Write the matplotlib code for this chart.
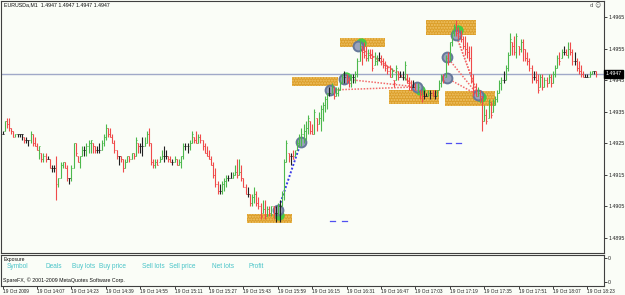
import numpy as np
import matplotlib
matplotlib.use('Agg')
import matplotlib.pyplot as plt
from matplotlib.patches import Rectangle
import matplotlib.transforms as mtransforms

plt.rcParams['font.family'] = ['Liberation Sans', 'DejaVu Sans']

# EURUSD M1 bars, 19 Oct 2009 from 13:51, prices in pips above 1.4900
highs = [29, 32, 33, 33, 30, 29, 28, 28, 28, 28,
         27, 27, 26, 29, 28, 27, 25, 24, 22, 22,
         22, 21, 20, 18, 18, 21, 14, 19, 19, 19,
         18, 14, 18, 25, 25, 21, 21, 24, 24, 25,
         26, 26, 25, 24, 24, 25, 26, 28, 31, 30,
         30, 28, 26, 23, 21, 21, 20, 20, 21, 21,
         22, 22, 27, 25, 25, 27, 27, 29, 30, 25,
         20, 20, 20, 21, 23, 24, 23, 21, 21, 20,
         21, 20, 20, 21, 25, 25, 25, 26, 29, 27,
         29, 28, 28, 26, 25, 24, 23, 21, 19, 17,
         13, 12, 13, 14, 15, 15, 16, 16, 18, 20,
         20, 18, 14, 12, 11, 9, 9, 11, 10, 8,
         6, 7, 7, 5, 5, 5, 5, 5, 6, 7,
         10, 20, 26, 22, 22, 23, 23, 26, 28, 30,
         31, 32, 34, 32, 31, 36, 33, 35, 37, 38,
         40, 41, 43, 44, 43, 43, 43, 45, 47, 48,
         47, 46, 47, 47, 48, 52, 58, 56, 57, 56,
         55, 55, 55, 54, 53, 54, 53, 52, 51, 50,
         50, 49, 45, 50, 48, 48, 48, 51, 47, 46,
         45, 45, 44, 44, 42, 42, 42, 41, 42, 42,
         42, 42, 42, 45, 47, 47, 53, 54, 57, 61,
         63, 64, 62, 61, 59, 59, 57, 56, 56, 47,
         44, 43, 42, 40, 37, 36, 39, 38, 39, 40,
         42, 45, 46, 48, 50, 54, 60, 57, 59, 60,
         56, 58, 58, 55, 54, 52, 50, 48, 48, 47,
         47, 47, 46, 46, 47, 47, 48, 50, 53, 54,
         55, 56, 55, 57, 57, 55, 54, 52, 51, 50,
         48, 47, 47, 48, 48, 48, 48]
lows = [28, 29, 30, 29, 28, 27, 27, 27, 27, 26,
        25, 25, 24, 25, 24, 24, 23, 20, 19, 19,
        19, 20, 17, 16, 16, 7, 11, 14, 17, 17,
        13, 12, 13, 17, 21, 19, 17, 21, 21, 21,
        22, 22, 22, 22, 22, 22, 23, 24, 26, 27,
        27, 25, 22, 20, 18, 19, 16, 17, 19, 19,
        20, 20, 21, 22, 22, 21, 24, 25, 24, 18,
        17, 17, 18, 19, 20, 19, 20, 19, 19, 18,
        19, 18, 18, 17, 20, 23, 22, 23, 25, 25,
        25, 25, 25, 23, 22, 21, 20, 18, 14, 11,
        9, 9, 9, 10, 11, 13, 14, 14, 15, 14,
        15, 13, 11, 9, 8, 5, 5, 6, 5, 4,
        1, 3, 1, 2, 2, 2, 1, 0, 1, 0,
        5, 7, 19, 19, 18, 20, 21, 23, 24, 24,
        25, 26, 28, 28, 28, 28, 29, 31, 29, 32,
        35, 36, 40, 41, 39, 40, 40, 42, 44, 44,
        44, 43, 43, 44, 44, 46, 51, 50, 52, 51,
        51, 52, 48, 50, 50, 51, 50, 49, 48, 47,
        46, 46, 43, 45, 45, 46, 45, 45, 44, 42,
        42, 43, 42, 41, 39, 38, 39, 40, 40, 39,
        40, 39, 40, 42, 43, 44, 46, 50, 51, 56,
        59, 59, 58, 57, 55, 53, 52, 51, 44, 40,
        40, 40, 38, 29, 32, 31, 33, 33, 35, 37,
        38, 41, 42, 44, 45, 48, 53, 53, 53, 52,
        53, 54, 51, 51, 50, 48, 44, 45, 44, 41,
        43, 42, 43, 43, 44, 43, 44, 46, 49, 50,
        52, 53, 53, 52, 53, 50, 50, 48, 47, 46,
        46, 46, 46, 46, 47, 47, 46]
closes = [28, 32, 31, 30, 29, 27, 28, 28, 28, 28,
          26, 26, 26, 28, 25, 24, 23, 24, 20, 21,
          20, 20, 17, 17, 17, 12, 14, 18, 19, 17,
          14, 14, 17, 25, 22, 19, 21, 23, 23, 24,
          25, 26, 24, 23, 23, 23, 25, 27, 30, 28,
          27, 25, 23, 21, 21, 20, 17, 19, 21, 20,
          22, 21, 26, 24, 24, 24, 25, 28, 25, 19,
          18, 19, 18, 20, 21, 21, 21, 20, 19, 19,
          20, 18, 19, 21, 24, 24, 24, 25, 28, 26,
          25, 27, 26, 24, 22, 21, 20, 18, 15, 12,
          10, 10, 12, 13, 14, 14, 14, 15, 16, 15,
          16, 14, 11, 9, 9, 6, 8, 9, 6, 5,
          2, 4, 2, 4, 3, 5, 3, 3, 5, 5,
          9, 19, 25, 21, 21, 20, 22, 25, 27, 28,
          29, 30, 33, 29, 28, 35, 31, 33, 36, 37,
          39, 41, 41, 43, 40, 41, 42, 44, 46, 46,
          45, 44, 46, 46, 47, 51, 56, 54, 53, 52,
          53, 52, 49, 51, 52, 52, 51, 50, 49, 48,
          46, 48, 44, 49, 46, 46, 46, 50, 44, 43,
          42, 43, 42, 43, 41, 40, 40, 40, 41, 41,
          40, 40, 42, 44, 46, 45, 52, 51, 57, 60,
          62, 60, 59, 58, 56, 55, 54, 52, 45, 41,
          40, 41, 40, 32, 34, 32, 38, 34, 37, 39,
          41, 44, 45, 45, 49, 53, 58, 56, 54, 59,
          55, 57, 55, 52, 51, 49, 46, 46, 45, 42,
          46, 43, 45, 44, 46, 44, 47, 49, 52, 51,
          54, 54, 53, 55, 54, 51, 51, 49, 48, 47,
          46, 46, 46, 47, 48, 48, 47]
first_open = 28
current_price = 1.4947
symbol_title = 'EURUSDa,M1  1.4947 1.4947 1.4947 1.4947'

# time axis labels every 16 minutes
tick_minutes = list(range(0, 273, 16))
tick_labels = ['19 Oct 2009', '19 Oct 14:07', '19 Oct 14:23', '19 Oct 14:39', '19 Oct 14:55',
               '19 Oct 15:11', '19 Oct 15:27', '19 Oct 15:43', '19 Oct 15:59', '19 Oct 16:15',
               '19 Oct 16:31', '19 Oct 16:47', '19 Oct 17:03', '19 Oct 17:19', '19 Oct 17:35',
               '19 Oct 17:51', '19 Oct 18:07', '19 Oct 18:23']
price_ticks = [1.4895, 1.4905, 1.4915, 1.4925, 1.4935, 1.4945, 1.4955, 1.4965]

# trade zones: start minute, end minute, low pip, high pip
zone_start = [113.7, 134.6, 156.9, 179.7, 196.9, 205.8]
zone_end = [134.6, 156.0, 177.9, 203.0, 220.2, 229.0]
zone_low = [-0.3, 43.2, 55.6, 37.5, 59.4, 36.8]
zone_high = [2.6, 46.0, 58.4, 41.9, 64.1, 41.6]

# deal markers (minute, pip)
deal_m = [128.1, 138.8, 152.3, 158.8, 165.3, 192.7, 206.7, 206.7, 210.9, 221.1]
deal_p = [3.8, 25.4, 41.9, 45.4, 55.9, 42.9, 52.4, 45.7, 59.4, 40.3]
green_m = [128.6, 159.7, 166.7, 194.1, 211.8, 222.5]
green_p = [2.2, 46.0, 56.8, 41.9, 61.0, 39.7]

# links between deals (index into deal lists)
red_from = [2, 3, 4, 4, 6, 7, 8, 8]
red_to = [5, 5, 5, 5, 9, 9, 9, 9]
blue_from = [0]
blue_to = [1]

# short order marks (start minute, end minute, pip)
mark_start = [152.3, 157.9, 206.2, 210.9]
mark_end = [154.6, 160.2, 208.6, 213.2]
mark_p = [0.3, 0.3, 25.1, 25.1]

headers = ['Symbol', 'Deals', 'Buy lots', 'Buy price', 'Sell lots', 'Sell price', 'Net lots', 'Profit']
header_x = [7, 45, 72, 99, 142, 169, 212, 249]

bg = '#FAFDF7'
W, H = 625, 295


def price(p):
    return 1.49 + np.asarray(p, dtype=float) / 10000.0


fig = plt.figure(figsize=(W / 100, H / 100), dpi=100, facecolor=bg)

# main chart
ax = fig.add_axes([1 / W, (H - 253) / H, 603 / W, 252 / H], facecolor=bg)
n = len(closes)
m = np.arange(n)
hi = price(highs)
lo = price(lows)
cl = price(closes)
op = price([first_open] + closes[:-1])
op = np.clip(op, lo, hi)

cols = []
for o, c in zip(op, cl):
    if c > o + 1e-9:
        cols.append('#4CB84C')
    elif c < o - 1e-9:
        cols.append('#F04A4A')
    else:
        cols.append('#202020')

ax.axhline(current_price, color='#A0A9C8', lw=1, zorder=1)

# zones
for s, e, l, h in zip(zone_start, zone_end, zone_low, zone_high):
    r = Rectangle((s, price(l)), e - s, price(h) - price(l), facecolor='#DB9E2A',
                  edgecolor='#F0C468', hatch='......', lw=0, zorder=2)
    ax.add_patch(r)

# links
dm = np.array(deal_m)
dp = price(deal_p)
for a, b in zip(red_from, red_to):
    ax.plot([dm[a], dm[b]], [dp[a], dp[b]], color='#F26A6A', lw=1.1,
            linestyle=(0, (1, 1)), zorder=3)
for a, b in zip(blue_from, blue_to):
    ax.plot([dm[a], dm[b]], [dp[a], dp[b]], color='#3A3AE8', lw=1.4,
            linestyle=(0, (1, 1)), zorder=3)

# deal circles
ax.scatter(green_m, price(green_p), s=55, color='#44CC44', lw=0, zorder=3)
ax.scatter(deal_m, dp, s=50, facecolor='#9AA3BC', edgecolor='#66789A', lw=1.4, zorder=4)

# bars
ax.vlines(m, lo, hi, colors=cols, lw=0.8, zorder=5)
ax.hlines(op, m - 0.45, m, colors=cols, lw=0.7, zorder=5)
ax.hlines(cl, m, m + 0.45, colors=cols, lw=0.7, zorder=5)

for s, e, p in zip(mark_start, mark_end, mark_p):
    ax.plot([s, e], [price(p), price(p)], color='#5050F0', lw=0.9, zorder=5)

ax.set_xlim(-0.74, 279.7)
ax.set_ylim(price(-9.83), price(70.17))
ax.set_xticks([])
ax.yaxis.tick_right()
ax.set_yticks(price_ticks)
ax.set_yticklabels(['%.4f' % t for t in price_ticks])
ax.tick_params(axis='y', length=2, width=0.6, pad=1, labelsize=3.8, colors='#202020')
for sp in ax.spines.values():
    sp.set_color('#404040')
    sp.set_linewidth(0.8)

trans = mtransforms.blended_transform_factory(ax.transAxes, ax.transData)
ax.text(1.003, current_price, '%.4f' % current_price, transform=trans, ha='left', va='center',
        fontsize=3.8, color='white', zorder=10, clip_on=False,
        bbox=dict(boxstyle='square,pad=0.25', fc='black', ec='black'))

fig.text(4 / W, 1 - 5 / H, symbol_title, fontsize=3.8, ha='left', va='center', color='#101010')
fig.text(595 / W, 1 - 6 / H, 'd \u263a', fontsize=4, ha='center', va='center', color='#505050',
         family=['DejaVu Sans'])

# lower exposure panel
sub = fig.add_axes([1 / W, (H - 286) / H, 603 / W, 31 / H], facecolor=bg)
sub.set_xlim(-0.74, 279.7)
sub.set_ylim(0, 1)
sub.yaxis.tick_right()
sub.set_yticks([0.13, 0.9])
sub.set_yticklabels(['0', '0'])
sub.tick_params(axis='y', length=2, width=0.6, pad=1, labelsize=3.8, colors='#202020')
sub.set_xticks(tick_minutes)
sub.set_xticklabels(tick_labels, ha='left')
sub.tick_params(axis='x', length=2, width=0.6, pad=0.3, labelsize=3.4, colors='#202020')
for sp in sub.spines.values():
    sp.set_color('#404040')
    sp.set_linewidth(0.8)

fig.text(4 / W, 1 - 259 / H, 'Exposure', fontsize=3.6, ha='left', va='center', color='#101010')
for t, x in zip(headers, header_x):
    fig.text(x / W, 1 - 267 / H, t, fontsize=4.7, ha='left', va='center', color='#48C4C8')
fig.text(3 / W, 1 - 280 / H, 'SpareFX, \u00a9 2001-2009 MetaQuotes Software Corp.', fontsize=3.8,
         ha='left', va='center', color='#101010')

fig.savefig('out.png', dpi=100, facecolor=bg)
